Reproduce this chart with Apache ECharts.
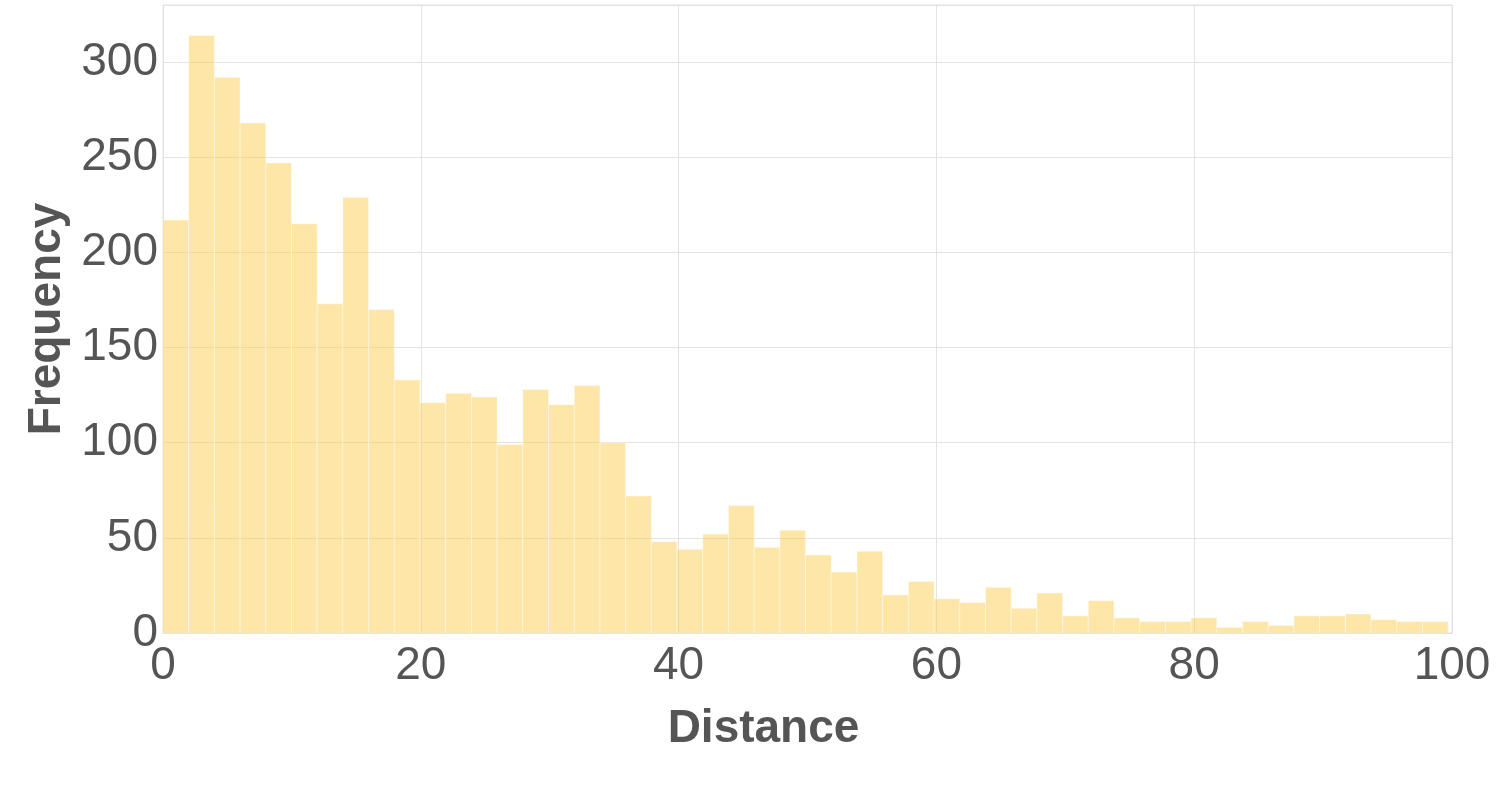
<!DOCTYPE html>
<html>
<head>
<meta charset="utf-8">
<script src="https://cdn.jsdelivr.net/npm/echarts@6/dist/echarts.min.js"></script>
<style>html,body{margin:0;padding:0;background:#fff;}#c{width:1497px;height:785px;}</style>
</head>
<body>
<div id="c"></div>
<script>
// Histogram counts per bin (50 bins starting at 0)
const counts = [217, 314, 292, 268, 247, 215, 173, 229, 170, 133,
                121, 126, 124, 99, 128, 120, 130, 100, 72, 48,
                44, 52, 67, 45, 54, 41, 32, 43, 20, 27,
                18, 16, 24, 13, 21, 9, 17, 8, 6, 6,
                8, 3, 6, 4, 9, 9, 10, 7, 6, 6];
const binStart = 0;
const binWidth = 1.994;
const xTicks = [0, 20, 40, 60, 80, 100];
const yTicks = [0, 50, 100, 150, 200, 250, 300];
const xLabel = 'Distance';
const yLabel = 'Frequency';

const data = counts.map((c, i) => [binStart + i * binWidth, binStart + (i + 1) * binWidth, c]);

const font = "'Liberation Sans', Arial, sans-serif";
const textColor = '#555555';
const chart = echarts.init(document.getElementById('c'), null, {renderer: 'canvas'});
chart.setOption({
  animation: false,
  backgroundColor: '#ffffff',
  grid: {left: 163, right: 45, top: 5, bottom: 152, show: true, borderColor: '#e3e3e3', borderWidth: 1},
  xAxis: {
    type: 'value', min: xTicks[0], max: xTicks[xTicks.length - 1], interval: 20,
    name: xLabel, nameLocation: 'middle', nameGap: 73,
    nameTextStyle: {fontFamily: font, fontSize: 46, fontWeight: 'bold', color: textColor, padding: [0, 88, 0, 0]},
    axisLine: {show: true, lineStyle: {color: '#dcdcdc'}},
    axisTick: {show: false},
    axisLabel: {fontFamily: font, fontSize: 46, color: textColor, margin: 10},
    splitLine: {show: true, lineStyle: {color: '#e3e3e3', width: 1}}
  },
  yAxis: {
    type: 'value', min: 0, max: 330, interval: 50,
    name: yLabel, nameLocation: 'middle', nameGap: 86,
    nameTextStyle: {fontFamily: font, fontSize: 46, fontWeight: 'bold', color: textColor},
    axisLine: {show: true, lineStyle: {color: '#e3e3e3'}},
    axisTick: {show: false},
    axisLabel: {fontFamily: font, fontSize: 46, color: textColor, margin: 5,
      formatter: v => (yTicks.indexOf(v) >= 0 ? String(v) : '')},
    splitLine: {show: true, lineStyle: {color: '#e3e3e3', width: 1}}
  },
  series: [{
    type: 'custom',
    data: data,
    encode: {x: [0, 1], y: 2},
    renderItem: function (params, api) {
      const p0 = api.coord([api.value(0), 0]);
      const p1 = api.coord([api.value(1), api.value(2)]);
      return {
        type: 'rect',
        shape: {x: p0[0], y: p1[1], width: p1[0] - p0[0], height: p0[1] - p1[1]},
        style: {fill: 'rgba(251,205,80,0.5)', stroke: 'rgba(255,255,255,0.45)', lineWidth: 1}
      };
    }
  }]
});
</script>
</body>
</html>
